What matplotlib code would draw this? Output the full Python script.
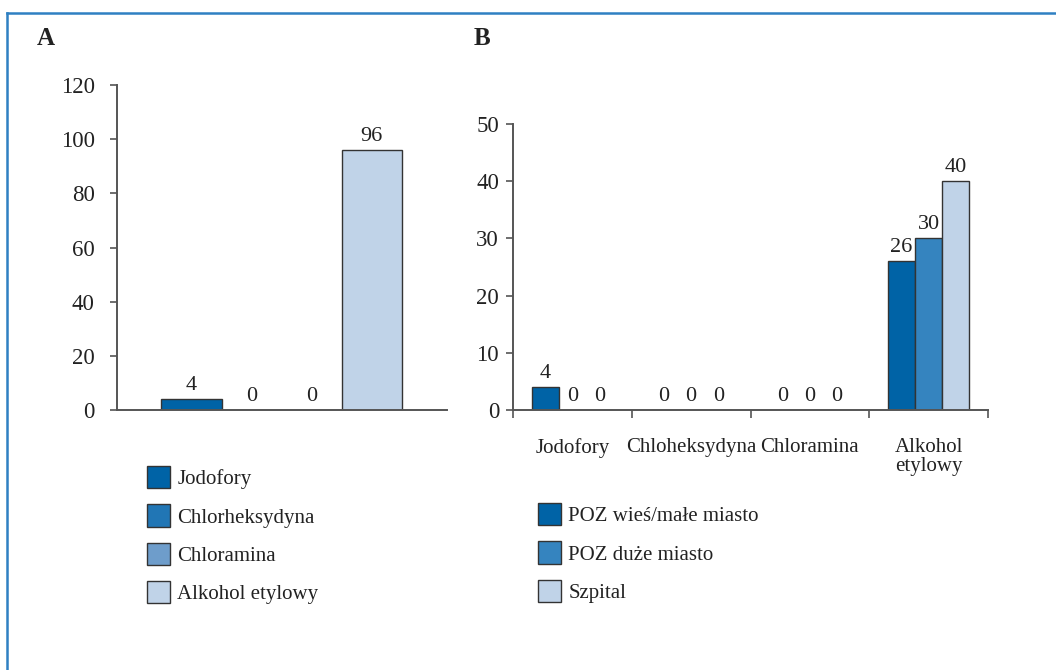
import matplotlib.pyplot as plt
import numpy as np
from matplotlib.patches import Patch
from matplotlib.lines import Line2D

plt.rcParams['font.family'] = ['Liberation Serif', 'DejaVu Serif']
plt.rcParams['font.size'] = 15

# Panel A: disinfectant used overall
agents_a = ['Jodofory', 'Chlorheksydyna', 'Chloramina', 'Alkohol etylowy']
values_a = [4, 0, 0, 96]
colors_a = ['#0063a6', '#2176b5', '#6e9dcb', '#c0d3e8']

# Panel B: disinfectant by facility type
agents_b = ['Jodofory', 'Chloheksydyna', 'Chloramina', 'Alkohol\netylowy']
groups_b = ['POZ wieś/małe miasto', 'POZ duże miasto', 'Szpital']
poz_small = [4, 0, 0, 26]
poz_big = [0, 0, 0, 30]
hospital = [0, 0, 0, 40]
colors_b = ['#0063a6', '#3584bf', '#c0d3e8']

edge = '#333333'
axis_col = '#555555'
txt = '#222222'

fig = plt.figure(figsize=(10.56, 6.70), dpi=100)

# blue frame around the figure
fig.add_artist(Line2D([7/1056, 1.0], [1 - 13/670, 1 - 13/670], color='#2f80c2', lw=1.8,
                      transform=fig.transFigure))
fig.add_artist(Line2D([7/1056, 7/1056], [0, 1 - 13/670], color='#2f80c2', lw=1.8,
                      transform=fig.transFigure))


def style_axes(ax, pad):
    for side in ['top', 'right']:
        ax.spines[side].set_visible(False)
    for side in ['left', 'bottom']:
        ax.spines[side].set_color(axis_col)
        ax.spines[side].set_linewidth(1.4)
    ax.tick_params(axis='y', direction='out', length=5, width=1.2, color=axis_col,
                   labelsize=16.5, pad=pad, labelcolor=txt)


def label_bar(ax, x, v):
    ax.annotate(str(v), (x, v), xytext=(0, 3), textcoords='offset points',
                ha='center', va='bottom', fontsize=16, color=txt)


def add_legend(handles, labels, x, y):
    fig.legend(handles, labels, loc='upper left', bbox_to_anchor=(x, y),
               bbox_transform=fig.transFigure, frameon=False, fontsize=15,
               handlelength=1.1, handleheight=1.27, labelspacing=0.73, handletextpad=0.35,
               borderpad=0, borderaxespad=0, labelcolor=txt)


# ---- Panel A ----
axA = fig.add_axes([117/1056, 1 - 410/670, 330/1056, 325/670])
xa = np.arange(len(agents_a))
axA.bar(xa, values_a, width=1.0, color=colors_a, edgecolor=edge, linewidth=1.0)
for x, v in zip(xa, values_a):
    label_bar(axA, x, v)
axA.set_xlim(-1.24, 4.25)
axA.set_ylim(0, 120)
axA.set_yticks(np.arange(0, 121, 20))
axA.set_xticks([])
style_axes(axA, pad=11)

handlesA = [Patch(facecolor=c, edgecolor=edge, linewidth=1.0) for c in colors_a]
add_legend(handlesA, agents_a, 147/1056, 1 - 466/670)

# ---- Panel B ----
axB = fig.add_axes([513/1056, 1 - 410/670, 475/1056, 286/670])
xb = np.arange(len(agents_b))
w = 0.228
for k, (vals, col) in enumerate(zip([poz_small, poz_big, hospital], colors_b)):
    pos = xb + (k - 1) * w
    axB.bar(pos, vals, width=w, color=col, edgecolor=edge, linewidth=1.0)
    for x, v in zip(pos, vals):
        label_bar(axB, x, v)
axB.set_xlim(-0.5, 3.5)
axB.set_ylim(0, 50)
axB.set_yticks(np.arange(0, 51, 10))
axB.set_xticks(np.arange(-0.5, 3.6, 1.0))
axB.set_xticklabels([])
axB.set_xticks(xb, minor=True)
axB.set_xticklabels(agents_b, minor=True, linespacing=1.05)
axB.tick_params(axis='x', which='major', direction='out', length=6, width=1.2, color=axis_col)
axB.tick_params(axis='x', which='minor', length=0, pad=20, labelsize=15, labelcolor=txt)
style_axes(axB, pad=5)

handlesB = [Patch(facecolor=c, edgecolor=edge, linewidth=1.0) for c in colors_b]
add_legend(handlesB, groups_b, 538/1056, 1 - 503/670)

# panel letters
fig.text(37/1056, 1 - 45/670, 'A', fontsize=18, fontweight='bold', color=txt)
fig.text(474/1056, 1 - 45/670, 'B', fontsize=18, fontweight='bold', color=txt)

fig.savefig('out.png', dpi=100)
